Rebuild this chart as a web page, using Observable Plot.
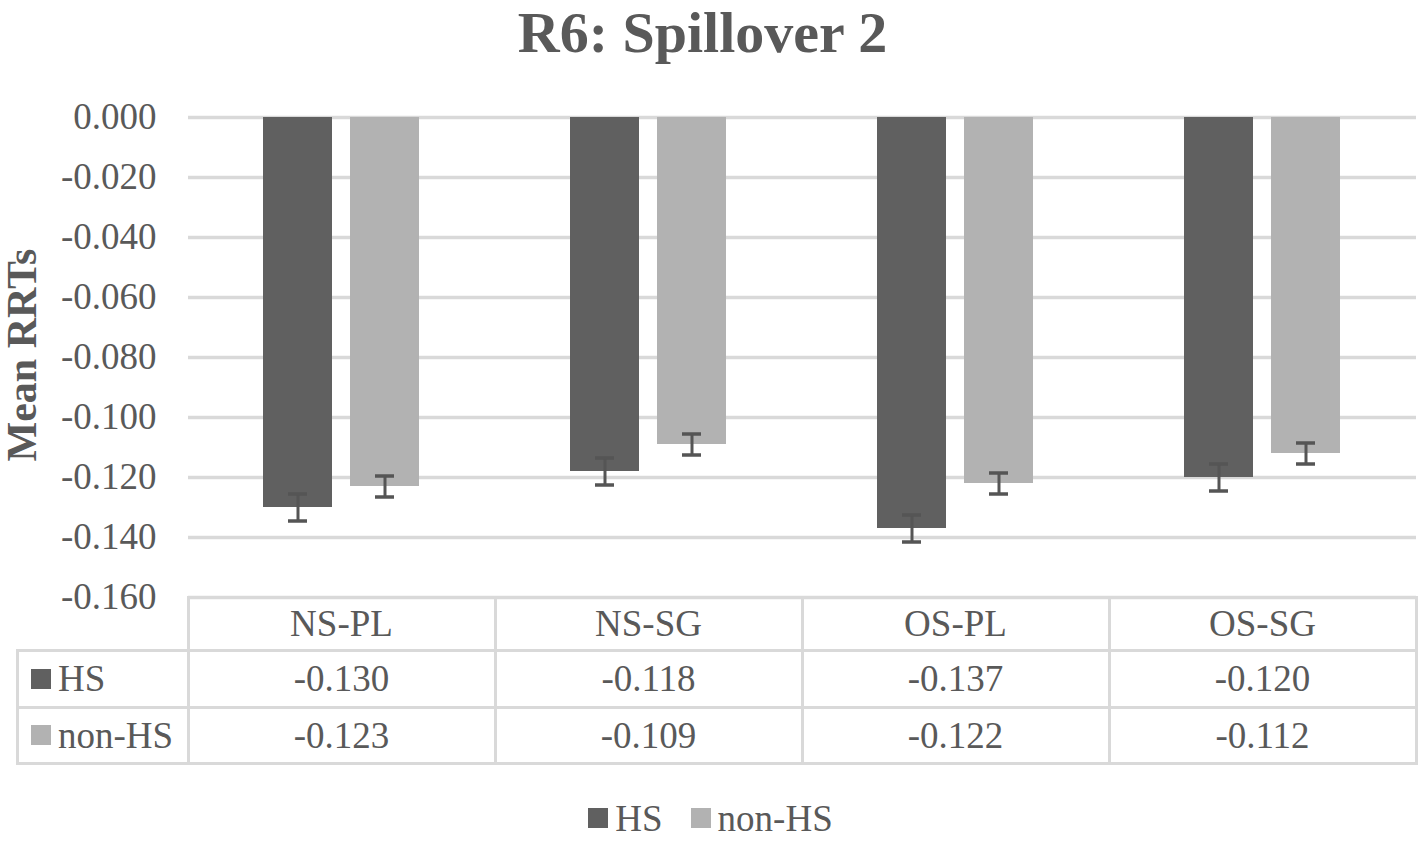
<!DOCTYPE html>
<html><head><meta charset="utf-8">
<script src="https://cdn.jsdelivr.net/npm/d3@7"></script>
<script src="https://cdn.jsdelivr.net/npm/@observablehq/plot@0.6"></script>
<style>
body{margin:0;background:#fff;}
#wrap{position:relative;width:1421px;height:842px;overflow:hidden;font-family:"Liberation Serif","Times New Roman",serif;color:#595959;background:#fff;}
.line{position:absolute;background:#d9d9d9;}
.cell{position:absolute;display:flex;align-items:center;justify-content:center;font-size:37px;white-space:nowrap;}
#title{position:absolute;left:0;top:0;width:1405px;height:65px;line-height:65px;text-align:center;font-size:58px;font-weight:bold;}
#ylabel{position:absolute;left:22px;top:355px;transform:translate(-50%,-50%) rotate(-90deg);font-size:42px;line-height:42px;height:42px;font-weight:bold;white-space:nowrap;}
#legend{position:absolute;left:0;top:798px;width:1421px;height:40px;display:flex;justify-content:center;align-items:center;font-size:37px;}
.sw{display:inline-block;width:20px;height:20px;margin-right:7px;}
.item{display:flex;align-items:center;margin:0 14px;}
</style></head><body><div id="wrap"><div id="title"></div><div id="ylabel"></div></div>
<script>
const title = "R6: Spillover 2";
const yLabel = "Mean RRTs";
const categories = ["NS-PL", "NS-SG", "OS-PL", "OS-SG"];
const series = ["HS", "non-HS"];
const hsValues = [-0.130, -0.118, -0.137, -0.120];
const nonHsValues = [-0.123, -0.109, -0.122, -0.112];
const hsErrors = [0.0045, 0.0045, 0.0045, 0.0045];
const nonHsErrors = [0.0035, 0.0035, 0.0035, 0.0035];
const yTicks = [0, -0.02, -0.04, -0.06, -0.08, -0.10, -0.12, -0.14, -0.16];
const colors = ["#606060", "#b2b2b2"];

const seriesValues = [hsValues, nonHsValues];
const seriesErrors = [hsErrors, nonHsErrors];
const rows = categories.flatMap((c, i) => series.map((s, j) => ({cat: c, series: s, value: seriesValues[j][i], err: seriesErrors[j][i]})));

const wrap = document.getElementById("wrap");
document.getElementById("title").textContent = title;
document.getElementById("ylabel").textContent = yLabel;

const chart = Plot.plot({
  width: 1421, height: 600,
  marginTop: 117, marginBottom: 3, marginLeft: 187, marginRight: 4,
  style: {fontFamily: "'Liberation Serif', 'Times New Roman', serif", fontSize: "37px", color: "#595959", background: "transparent", overflow: "visible"},
  fx: {domain: categories, padding: 0, axis: null},
  x: {domain: series, paddingInner: 0.2045, paddingOuter: 0.852, axis: null},
  y: {domain: [-0.16, 0]},
  color: {domain: series, range: colors},
  marks: [
    Plot.gridY(yTicks, {stroke: "#d9d9d9", strokeOpacity: 1, strokeWidth: 3.5}),
    Plot.axisY(yTicks, {tickSize: 0, tickPadding: 32, tickFormat: d => d.toFixed(3), fontSize: 37, label: null}),
    Plot.barY(rows, {fx: "cat", x: "series", y: "value", fill: "series"}),
    Plot.ruleX(rows, {fx: "cat", x: "series", y1: d => d.value - d.err, y2: d => d.value + d.err, stroke: "#555555", strokeWidth: 3}),
    Plot.tickY(rows, {fx: "cat", x: "series", y: d => d.value - d.err, stroke: "#555555", strokeWidth: 3.5, insetLeft: 25, insetRight: 25}),
    Plot.tickY(rows, {fx: "cat", x: "series", y: d => d.value + d.err, stroke: "#555555", strokeWidth: 3.5, insetLeft: 25, insetRight: 25})
  ]
});
chart.style.position = "absolute";
chart.style.left = "0px";
chart.style.top = "0px";
wrap.appendChild(chart);

// data table below the plot, aligned to the fx scale
const fxS = chart.scale("fx");
const yS = chart.scale("y");
const colLeft = c => fxS.apply(c);
const bw = fxS.bandwidth;
const tableLeft = colLeft(categories[0]);
const tableRight = colLeft(categories[categories.length - 1]) + bw;
const top0 = yS.apply(-0.16);
const rowBounds = [top0, top0 + 53, top0 + 110, top0 + 166];
const legendLeft = 17;

function line(x, y, w, h) {
  const d = document.createElement("div");
  d.className = "line";
  d.style.left = x + "px"; d.style.top = y + "px"; d.style.width = w + "px"; d.style.height = h + "px";
  wrap.appendChild(d);
}
function cell(x, y, w, h, content, justify) {
  const d = document.createElement("div");
  d.className = "cell";
  d.style.left = x + "px"; d.style.top = y + "px"; d.style.width = w + "px"; d.style.height = h + "px";
  if (justify) d.style.justifyContent = justify;
  if (typeof content === "string") d.textContent = content; else d.appendChild(content);
  wrap.appendChild(d);
  return d;
}
// horizontal lines
line(tableLeft - 1.5, rowBounds[0] - 1.5, tableRight - tableLeft + 3, 3);
for (let k = 1; k < rowBounds.length; k++) line(legendLeft - 1.5, rowBounds[k] - 1.5, tableRight - legendLeft + 3, 3);
// vertical lines
categories.forEach(c => line(colLeft(c) - 1.5, rowBounds[0] - 1.5, 3, rowBounds[3] - rowBounds[0] + 3));
line(tableRight - 1.5, rowBounds[0] - 1.5, 3, rowBounds[3] - rowBounds[0] + 3);
line(legendLeft - 1.5, rowBounds[1] - 1.5, 3, rowBounds[3] - rowBounds[1] + 3);
// header
categories.forEach(c => cell(colLeft(c), rowBounds[0], bw, rowBounds[1] - rowBounds[0], c));
// rows
series.forEach((s, j) => {
  const y0 = rowBounds[j + 1], h = rowBounds[j + 2] - rowBounds[j + 1];
  const lab = document.createElement("span");
  lab.style.display = "flex"; lab.style.alignItems = "center";
  const sw = document.createElement("span"); sw.className = "sw"; sw.style.background = colors[j];
  lab.appendChild(sw); lab.appendChild(document.createTextNode(s));
  cell(legendLeft + 14, y0, tableLeft - legendLeft - 14, h, lab, "flex-start");
  categories.forEach((c, i) => cell(colLeft(c), y0, bw, h, seriesValues[j][i].toFixed(3)));
});
// bottom legend
const leg = document.createElement("div");
leg.id = "legend";
series.forEach((s, j) => {
  const it = document.createElement("span"); it.className = "item";
  const sw = document.createElement("span"); sw.className = "sw"; sw.style.background = colors[j];
  it.appendChild(sw); it.appendChild(document.createTextNode(s));
  leg.appendChild(it);
});
wrap.appendChild(leg);
</script></body></html>
